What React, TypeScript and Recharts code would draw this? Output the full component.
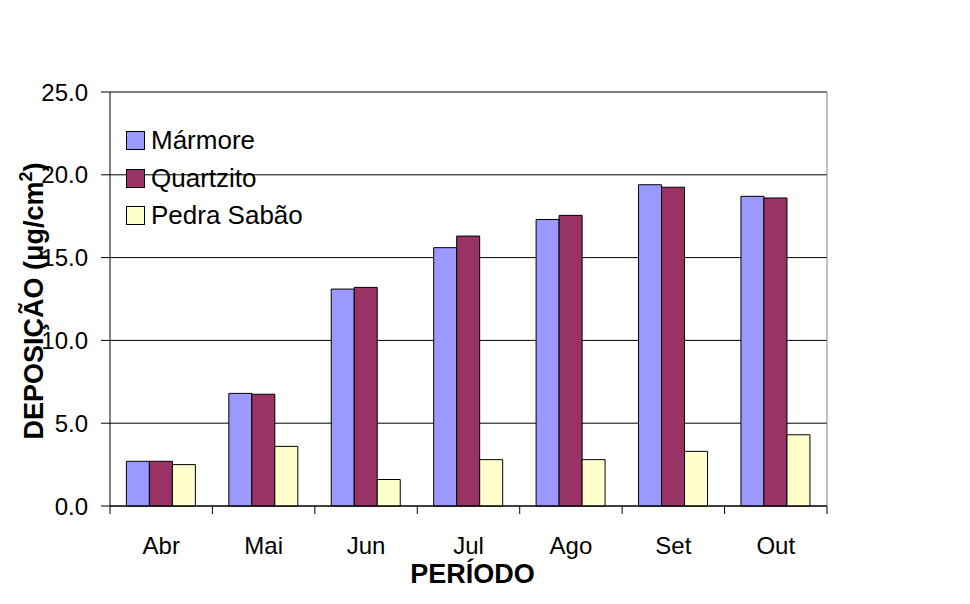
import React from 'react';
import { BarChart, Bar, XAxis, YAxis, CartesianGrid, Legend, ReferenceLine, Label } from 'recharts';

const categories = ['Abr', 'Mai', 'Jun', 'Jul', 'Ago', 'Set', 'Out'];
const marmore = [2.7, 6.8, 13.1, 15.6, 17.3, 19.4, 18.7];
const quartzito = [2.7, 6.75, 13.2, 16.3, 17.55, 19.25, 18.6];
const pedraSabao = [2.5, 3.6, 1.6, 2.8, 2.8, 3.3, 4.3];
const yTicks = [0, 5, 10, 15, 20, 25];
const boundaryTicks = [-0.5, 0.5, 1.5, 2.5, 3.5, 4.5, 5.5, 6.5];
const seriesKeys = ['m', 'q', 'p'];
const seriesNames = ['Mármore', 'Quartzito', 'Pedra Sabão'];
const seriesColors = ['#9999FF', '#993366', '#FFFFCC'];

const data = categories.map((c, i) => ({
  name: c,
  idx: i,
  m: marmore[i],
  q: quartzito[i],
  p: pedraSabao[i],
}));

const FONT = '"Liberation Sans", Arial, Helvetica, sans-serif';

const LegendContent = () => (
  <div style={{ fontFamily: FONT, fontSize: 26, color: '#000' }}>
    {seriesNames.map((n, i) => (
      <div key={n} style={{ display: 'flex', alignItems: 'center', height: 37.5, whiteSpace: 'nowrap' }}>
        <span
          style={{
            display: 'inline-block',
            width: 19,
            height: 19,
            boxSizing: 'border-box',
            border: '1px solid #000',
            background: seriesColors[i],
            marginRight: 6,
          }}
        />
        <span>{n}</span>
      </div>
    ))}
  </div>
);

const YTitle = (props: any) => {
  const vb = props.viewBox || { x: 0, y: 0, width: 0, height: 0 };
  const cx = vb.x + 43;
  const cy = vb.y + vb.height / 2 + 2;
  return (
    <text
      x={cx}
      y={cy}
      transform={`rotate(-90, ${cx}, ${cy})`}
      textAnchor="middle"
      fontFamily={FONT}
      fontSize={27}
      fontWeight="bold"
      fill="#000"
    >
      DEPOSIÇÃO (μg/cm<tspan dy={-11} fontSize={18}>2</tspan>
      <tspan dy={11}>)</tspan>
    </text>
  );
};

const XTitle = (props: any) => {
  const vb = props.viewBox || { x: 0, y: 0, width: 0, height: 0 };
  return (
    <text
      x={vb.x + vb.width / 2 + 4}
      y={583}
      textAnchor="middle"
      fontFamily={FONT}
      fontSize={27}
      fontWeight="bold"
      fill="#000"
    >
      PERÍODO
    </text>
  );
};

export default function App() {
  return (
    <div style={{ position: 'absolute', left: 0, top: 0, width: 970, height: 604, background: '#fff' }}>
      <BarChart
        width={970}
        height={604}
        data={data}
        margin={{ top: 92, right: 143, left: 0, bottom: 0 }}
        barGap={0}
        barCategoryGap="16%"
      >
        <CartesianGrid xAxisId="b" yAxisId="y" vertical={false} stroke="#000" strokeWidth={1} />
        <XAxis
          xAxisId="b"
          dataKey="name"
          height={90}
          axisLine={false}
          tickLine={false}
          tickSize={0}
          tickMargin={23}
          interval={0}
          tick={{ fill: '#000', fontSize: 24, fontFamily: FONT }}
        >
          <Label content={<XTitle />} />
        </XAxis>
        <XAxis
          xAxisId="a0"
          type="number"
          dataKey="idx"
          domain={[-0.5, 6.5]}
          ticks={boundaryTicks}
          allowDataOverflow
          height={8}
          tickSize={8}
          tickFormatter={() => ''}
          axisLine={{ stroke: '#000' }}
          tickLine={{ stroke: '#000' }}
        />
        <YAxis
          yAxisId="y"
          width={110}
          domain={[0, 25]}
          ticks={yTicks}
          tickFormatter={(v: number) => v.toFixed(1)}
          tickSize={9}
          tickMargin={13}
          axisLine={{ stroke: '#000' }}
          tickLine={{ stroke: '#000' }}
          tick={{ fill: '#000', fontSize: 24, fontFamily: FONT }}
        >
          <Label content={<YTitle />} />
        </YAxis>
        <ReferenceLine xAxisId="a0" yAxisId="y" y={25} stroke="#808080" strokeWidth={1} />
        <ReferenceLine xAxisId="a0" yAxisId="y" x={6.5} stroke="#808080" strokeWidth={1} />
        <Legend
          layout="vertical"
          align="center"
          verticalAlign="middle"
          content={<LegendContent />}
          wrapperStyle={{ left: 126, top: 122, width: 'auto', height: 'auto' }}
        />
        {seriesKeys.map((k, i) => (
          <Bar
            key={k}
            xAxisId="b"
            yAxisId="y"
            dataKey={k}
            name={seriesNames[i]}
            fill={seriesColors[i]}
            stroke="#000"
            strokeWidth={1}
            isAnimationActive={false}
          />
        ))}
      </BarChart>
    </div>
  );
}
